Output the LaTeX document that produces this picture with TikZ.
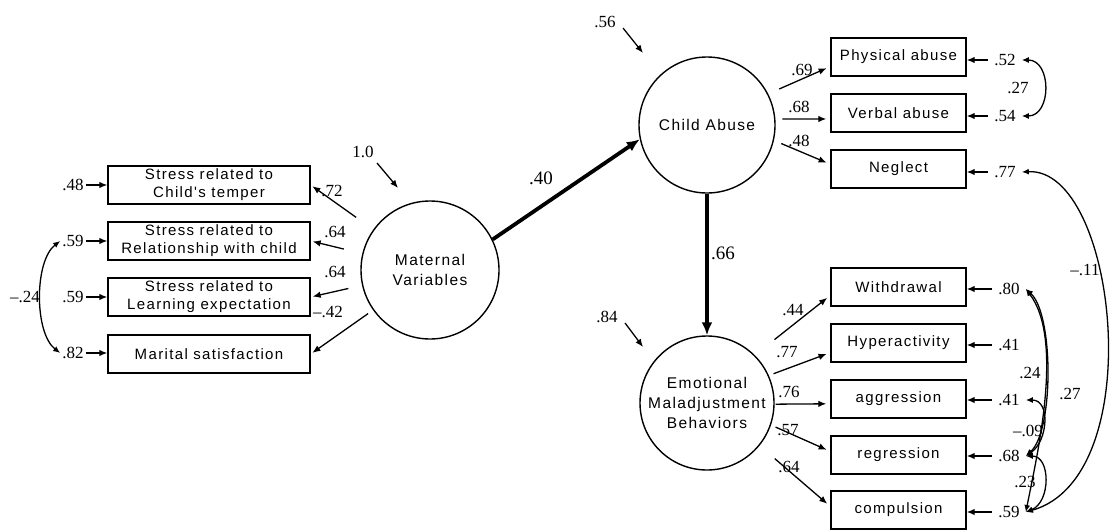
\documentclass[tikz,border=0pt]{standalone}
\usepackage{fontspec}
\setmainfont{Liberation Serif}
\newfontfamily\boxfont[LetterSpace=9]{Liberation Sans}
\usetikzlibrary{arrows.meta,calc}
\tikzset{
  box/.style={draw, line width=1.4pt, minimum width=202pt, minimum height=38pt, inner sep=0pt, align=center,
    font=\boxfont\fontsize{15}{18}\selectfont},
  rbox/.style={box, minimum width=135pt},
  lat/.style={draw, circle, line width=1.4pt, minimum size=136pt, inner sep=0pt, align=center,
    font=\boxfont\fontsize{15.5}{20}\selectfont},
  num/.style={font=\fontsize{17}{19}\selectfont, inner sep=0pt},
  errR/.style={num, inner xsep=6pt},
  errL/.style={num, inner xsep=2pt},
  big/.style={font=\fontsize{19}{21}\selectfont, inner sep=0pt},
  arr/.style={line width=1.3pt, -{Latex[length=8pt,width=6.5pt]}},
  thickarr/.style={line width=3.8pt, -{Latex[length=13pt,width=11pt]}},
  cov/.style={line width=1.3pt, {Latex[length=7pt,width=6pt]}-{Latex[length=7pt,width=6pt]}},
}
\begin{document}
\begin{tikzpicture}[x=1pt,y=-1pt]
\useasboundingbox (0,0) rectangle (1115,530);

% left observed variables
\node[box] (b1) at (209,185) {Stress related to\\Child's temper};
\node[box] (b2) at (209,241) {Stress related to\\Relationship with child};
\node[box] (b3) at (209,297) {Stress related to\\Learning expectation};
\node[box] (b4) at (209,354) {Marital satisfaction};

% latent variables
\node[lat, minimum size=138pt] (mat) at (430,270) {Maternal\\Variables};
\node[lat] (ca) at (707,125) {Child Abuse};
\node[lat, minimum size=134pt] (emb) at (707,403) {Emotional\\Maladjustment\\Behaviors};

% right observed variables
\node[rbox] (pa) at (898.5,57) {Physical abuse};
\node[rbox] (va) at (898.5,113) {Verbal abuse};
\node[rbox] (ng) at (898.5,169) {Neglect};
\node[rbox] (wd) at (898.5,287) {Withdrawal};
\node[rbox] (hy) at (898.5,343) {Hyperactivity};
\node[rbox] (ag) at (898.5,399) {aggression};
\node[rbox] (rg) at (898.5,455) {regression};
\node[rbox] (cp) at (898.5,510) {compulsion};

% left error terms
\node[errL] (e48) at (73,185) {.48};
\node[errL] (e59a) at (73,241) {.59};
\node[errL] (e59b) at (73,297) {.59};
\node[errL] (e82) at (73,353) {.82};
\draw[arr] (e48.east) -- (e48.east -| b1.west);
\draw[arr] (e59a.east) -- (e59a.east -| b2.west);
\draw[arr] (e59b.east) -- (e59b.east -| b3.west);
\draw[arr] (e82.east) -- (e82.east -| b4.west);
\draw[cov] (e59a.west) .. controls +(-26,20) and +(-26,-20) .. (e82.west);
\node[num] (c24l) at (25,297) {–.24};

% right error terms
\node[errR] (e52) at (1005,60) {.52};
\node[errR] (e54) at (1005,116) {.54};
\node[errR] (e77) at (1005,172) {.77};
\node[errR] (e80) at (1009,289) {.80};
\node[errR] (e41a) at (1009,345) {.41};
\node[errR] (e41b) at (1009,400) {.41};
\node[errR] (e68) at (1009,456) {.68};
\node[errR] (e59) at (1009,512) {.59};
\foreach \e/\b in {e52/pa,e54/va,e77/ng,e80/wd,e41a/hy,e41b/ag,e68/rg,e59/cp}
  \draw[arr] (\e.west) -- (\e.west -| \b.east);

% covariances right
\draw[cov] (e52.east) .. controls +(30,0) and +(30,0) .. (e54.east);
\node[num] (c27a) at (1018,88) {.27};
\draw[cov] (e80.east) .. controls +(28,25) and +(28,-25) .. (e68.east);
\draw[cov] (e80.east) .. controls +(38,50) and +(12,-60) .. (e59.east);
\draw[cov] (e41b.east) .. controls +(25,0) and +(22,-15) .. (e68.east);
\draw[cov] (e68.east) .. controls +(25,0) and +(25,-10) .. (e59.east);
\draw[cov] (e77.east) .. controls +(95,-5) and +(125,-35) .. (e59.east);
\node[num] (c24) at (1030,373) {.24};
\node[num] (c27b) at (1070,394) {.27};
\node[num] (c09) at (1028,431) {–.09};
\node[num] (c23) at (1025,482) {.23};
\node[num] (c11) at (1085,270) {–.11};

% loadings maternal
\draw[arr, shorten <=21pt, shorten >=2pt] (mat) -- (b1.east);
\draw[arr, shorten <=19pt, shorten >=2pt] (mat) -- (b2.east);
\draw[arr, shorten <=14pt, shorten >=2pt] (mat) -- (b3.east);
\draw[arr, shorten <=6pt, shorten >=2pt] (mat) -- (b4.east);
\node[num] (l72) at (332,191) {.72};
\node[num] (l64a) at (335,232) {.64};
\node[num] (l64b) at (335,272) {.64};
\node[num] (l42) at (328,312) {–.42};

% loadings child abuse
\draw[arr, shorten <=12pt, shorten >=4pt] (ca.27) -- (pa.188);
\draw[arr, shorten <=7pt, shorten >=4pt] (ca.5) -- (va.185);
\draw[arr, shorten <=8pt, shorten >=4pt] (ca.-13) -- (ng.176);
\node[num] (l69) at (802,70) {.69};
\node[num] (l68) at (799,107) {.68};
\node[num] (l48) at (799,141) {.48};

% loadings emotional
\draw[arr, shorten <=25pt, shorten >=4pt] (emb.45) -- (wd.187);
\draw[arr, shorten <=5pt, shorten >=4pt] (emb.24) -- (hy.188);
\draw[arr, shorten <=1pt, shorten >=4pt] (emb.-1) -- (ag.184);
\draw[arr, shorten <=5pt, shorten >=4pt] (emb.-19) -- (rg.177);
\draw[arr, shorten <=20pt, shorten >=4pt] (emb.-39) -- (cp.177);
\node[num] (l44) at (793,310) {.44};
\node[num] (l77) at (787,352) {.77};
\node[num] (l76) at (789,392) {.76};
\node[num] (l57) at (788,430) {.57};
\node[num] (l64c) at (789,467) {.64};

% structural paths
\draw[thickarr] (mat.26) -- (ca.192);
\draw[thickarr] (ca.south) -- (emb.north);
\node[big] (l40) at (541,178) {.40};
\node[big] (l66) at (723,253) {.66};

% disturbances
\node[num] (l10) at (363,152) {1.0};
\coordinate (s10) at (377,163);
\coordinate (t10) at (398,188);
\draw[arr] (s10) -- (t10);
\node[num] (l56) at (605,22) {.56};
\coordinate (s56) at (623,28);
\coordinate (t56) at (643,53);
\draw[arr] (s56) -- (t56);
\node[num] (l84) at (607,317) {.84};
\coordinate (s84) at (625,323);
\coordinate (t84) at (643,347);
\draw[arr] (s84) -- (t84);
\end{tikzpicture}
\end{document}
